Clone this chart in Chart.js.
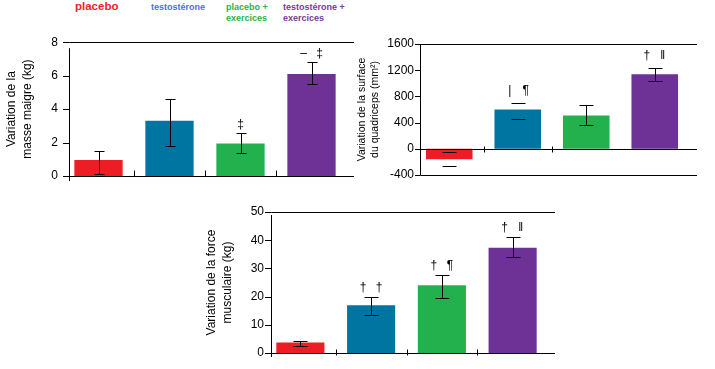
<!DOCTYPE html>
<html lang="fr">
<head>
  <meta charset="UTF-8">
  <title>Variation avec testostérone et exercices</title>
  <script src="https://cdn.jsdelivr.net/npm/chart.js"></script>
  <style>
    body {
      margin: 0;
      width: 715px;
      height: 369px;
      background: #fff;
      position: relative;
      overflow: hidden;
      font-family: "Liberation Sans", Arial, sans-serif;
    }
    canvas {
      position: absolute;
    }
    .lg {
      position: absolute;
      font-weight: bold;
      font-size: 9px;
      line-height: 11px;
      white-space: nowrap;
    }
  </style>
</head>
<body>
<div id="legend"></div>
<canvas id="masseChart" width="360" height="160" style="left:0;top:30px"></canvas>
<canvas id="surfaceChart" width="350" height="150" style="left:351px;top:35px"></canvas>
<canvas id="forceChart" width="360" height="166" style="left:200px;top:203px"></canvas>

<script>
  // groupes
  const groups = ['placebo', 'testostérone', 'placebo + exercices', 'testostérone + exercices'];
  const legendLines = [['placebo'], ['testostérone'], ['placebo +', 'exercices'], ['testostérone +', 'exercices']];
  const barColors = ['#ee1c25', '#0075a2', '#23b14d', '#6e3196'];
  const legendColors = ['#f0222b', '#4d6ee6', '#30b04a', '#7a3a98'];

  // masse maigre (kg)
  const masseMean = [0.95, 3.3, 1.95, 6.1];
  const masseLow = [0.1, 1.8, 1.37, 5.5];
  const masseHigh = [1.5, 4.6, 2.55, 6.8];
  const masseMarks = [[], [], ['‡'], ['–', '‡']];

  // surface du quadriceps (mm2)
  const surfMean = [-160, 600, 510, 1140];
  const surfLow = [-260, 455, 365, 1035];
  const surfHigh = [-50, 705, 670, 1235];
  const surfMarks = [[], ['|', '¶'], [], ['†', '‖']];

  // force musculaire (kg)
  const forceMean = [3.7, 16.9, 24, 37.3];
  const forceLow = [2.4, 13.5, 19.4, 34];
  const forceHigh = [4.4, 19.9, 27.6, 41.1];
  const forceMarks = [[], ['†', '†'], ['†', '¶'], ['†', '‖']];

  const FONT = '"Liberation Sans", Arial, sans-serif';

  // legende en haut
  const legendPos = [[75, 1, 11.5], [151, 1.5, 9], [226, 1.5, 9], [283, 1.5, 9]];
  document.getElementById('legend').innerHTML = legendLines.map((l, i) =>
    `<div class="lg" style="left:${legendPos[i][0]}px;top:${legendPos[i][1]}px;font-size:${legendPos[i][2]}px;color:${legendColors[i]}">${l.join('<br>')}</div>`
  ).join('');

  // axes, lignes et barres d'erreur
  const framePlugin = {
    id: 'frame',
    afterDatasetsDraw(chart, args, o) {
      const {ctx, chartArea: a, scales: {x, y}} = chart;
      const x0 = Math.round(a.left + o.inset) + 0.5;
      const py = v => Math.round(y.getPixelForValue(v)) + 0.5;
      ctx.save();
      ctx.strokeStyle = '#000';
      ctx.lineWidth = 1;
      ctx.beginPath();
      ctx.moveTo(x0, a.top + o.axisTop);
      ctx.lineTo(x0, a.bottom + o.axisBottom);
      y.ticks.forEach(t => {
        ctx.moveTo(a.left, py(t.value));
        ctx.lineTo(x0, py(t.value));
      });
      o.lines.forEach(v => {
        ctx.moveTo(x0, py(v));
        ctx.lineTo(a.right + o.extend, py(v));
      });
      const yb = py(o.catAt);
      o.catTicks.forEach(i => {
        const px = Math.round((x.getPixelForValue(i - 1) + x.getPixelForValue(i)) / 2) + 0.5;
        ctx.moveTo(px, yb - o.catUp);
        ctx.lineTo(px, yb + o.catDown);
      });
      ctx.stroke();

      const ds = chart.data.datasets[0];
      const meta = chart.getDatasetMeta(0);
      ctx.fillStyle = '#000';
      ctx.font = '12px ' + FONT;
      ctx.textAlign = 'center';
      ctx.textBaseline = 'middle';
      meta.data.forEach((bar, i) => {
        const bx = Math.round(bar.x) + 0.5;
        const yh = py(ds.high[i]), yl = py(ds.low[i]);
        ctx.beginPath();
        if (!o.noStem || !o.noStem.includes(i)) {
          ctx.moveTo(bx, yh);
          ctx.lineTo(bx, yl);
        }
        ctx.moveTo(bx - o.cap, yh); ctx.lineTo(bx + o.cap, yh);
        ctx.moveTo(bx - o.cap, yl); ctx.lineTo(bx + o.cap, yl);
        ctx.stroke();
        const m = ds.marks[i];
        if (m.length === 1) ctx.fillText(m[0], bar.x, yh - o.markGap);
        if (m.length === 2) {
          ctx.fillText(m[0], bar.x - 8, yh - o.markGap);
          ctx.fillText(m[1], bar.x + 8, yh - o.markGap);
        }
      });
      ctx.restore();
    }
  };

  function makeChart(id, mean, low, high, marks, yOpts, title, titleSize, yWidth, pad, frame) {
    return new Chart(document.getElementById(id), {
      type: 'bar',
      data: {
        labels: groups,
        datasets: [{
          data: mean,
          low: low,
          high: high,
          marks: marks,
          backgroundColor: barColors,
          borderWidth: 0,
          categoryPercentage: 1,
          barPercentage: 0.68
        }]
      },
      options: {
        responsive: false,
        animation: false,
        layout: { padding: pad },
        plugins: {
          legend: { display: false },
          tooltip: { enabled: false },
          frame: frame
        },
        scales: {
          x: { display: false },
          y: {
            min: yOpts.min,
            max: yOpts.max,
            afterFit: s => { s.width = yWidth; },
            grid: { display: false, drawTicks: false },
            border: { display: false },
            ticks: {
              stepSize: yOpts.step,
              padding: yOpts.pad,
              color: '#000',
              font: { size: 12, family: FONT },
              callback: v => String(v)
            },
            title: {
              display: true,
              text: title,
              color: '#000',
              padding: { top: 4, bottom: 0 },
              font: { size: titleSize, family: FONT, lineHeight: 1.3 }
            }
          }
        }
      },
      plugins: [framePlugin]
    });
  }

  makeChart('masseChart', masseMean, masseLow, masseHigh, masseMarks,
    { min: 0, max: 8, step: 2, pad: 5 },
    ['Variation de la', 'masse maigre (kg)'], 12, 63,
    { top: 9, bottom: 14, left: 0, right: 13 },
    { inset: 6, axisTop: 6, axisBottom: 5, lines: [8, 0], extend: 7, catAt: 0, catTicks: [1, 2, 3], catUp: 6, catDown: 0, cap: 5, markGap: 9 });

  makeChart('surfaceChart', surfMean, surfLow, surfHigh, surfMarks,
    { min: -400, max: 1600, step: 400, pad: 1 },
    ['Variation de la surface', 'du quadriceps (mm²)'], 10.5, 64,
    { top: 9, bottom: 10, left: 0, right: 12 },
    { inset: 5, axisTop: 0, axisBottom: 0, lines: [1600, 0, -400], extend: 8, catAt: 0, catTicks: [1, 2], catUp: 3, catDown: 3, cap: 7, markGap: 13, noStem: [0, 1] });

  makeChart('forceChart', forceMean, forceLow, forceHigh, forceMarks,
    { min: 0, max: 50, step: 10, pad: 1 },
    ['Variation de la force', 'musculaire (kg)'], 12, 65,
    { top: 9, bottom: 16, left: 0, right: 12 },
    { inset: 6, axisTop: 3, axisBottom: 4, lines: [50, 0], extend: 7, catAt: 0, catTicks: [1, 2, 3], catUp: 4, catDown: 2, cap: 7, markGap: 10 });
</script>
</body>
</html>
